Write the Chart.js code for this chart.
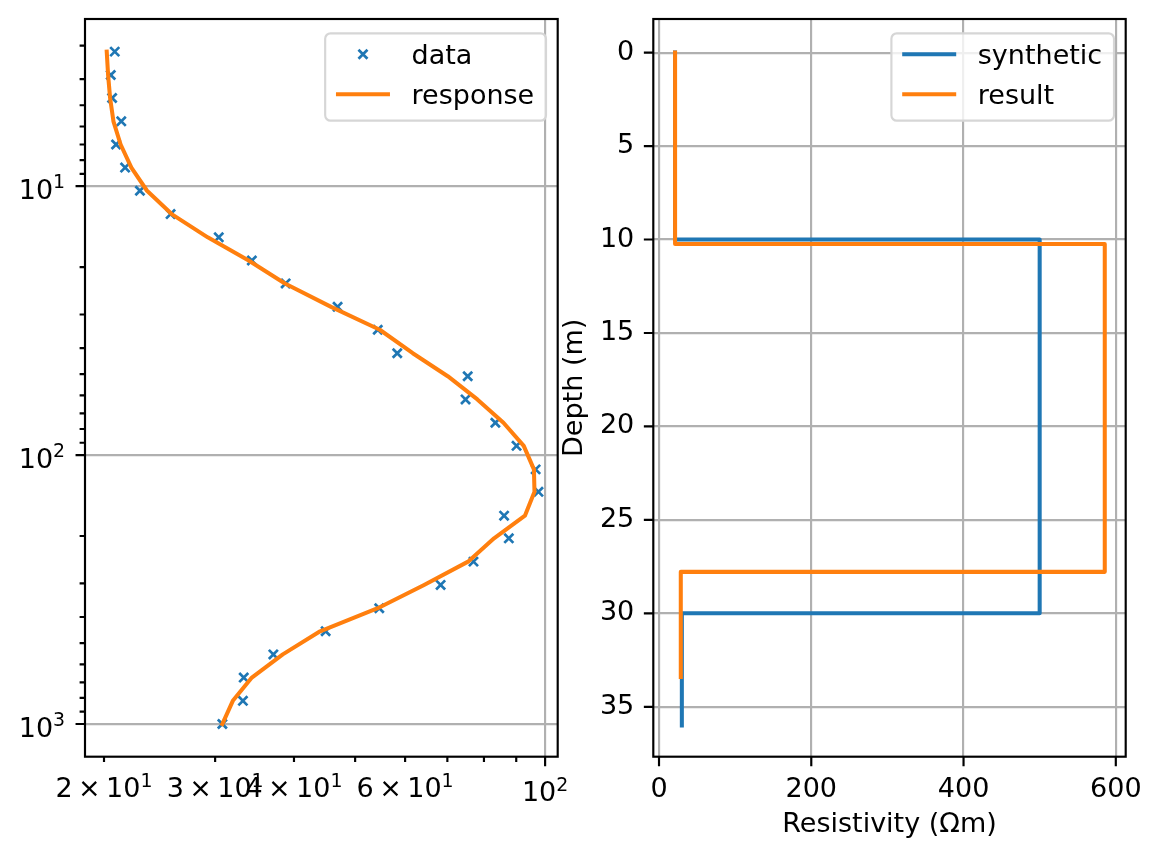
<!DOCTYPE html>
<html>
<head>
<meta charset="utf-8">
<script src="https://cdn.jsdelivr.net/npm/chart.js@4"></script>
<style>
  body { margin: 0; background: #fff; }
  canvas { position: absolute; left: 0; top: 0; }
</style>
</head>
<body>
<canvas id="sounding" width="1161" height="861"></canvas>
<canvas id="model" width="1161" height="861"></canvas>
<script>
// sounding: AB/2 spacings (m) and apparent resistivity
const ab2 = [3.16, 3.86, 4.70, 5.74, 7.00, 8.53, 10.4, 12.7, 15.5, 18.9,
             23.0, 28.1, 34.2, 41.8, 50.9, 62.1, 75.8, 92.4, 113, 137,
             168, 204, 249, 304, 371, 452, 551, 672, 820, 1000];
const rhoaData = [20.8, 20.5, 20.6, 21.3, 20.9, 21.6, 22.8, 25.5, 30.4, 34.3,
                  38.8, 46.9, 54.3, 58.3, 75.4, 74.8, 83.4, 90.1, 96.6, 97.6,
                  86.1, 87.6, 77.0, 68.3, 54.6, 44.9, 37.1, 33.3, 33.2, 30.8];
const rhoaResponse = [20.2, 20.3, 20.45, 20.7, 21.25, 22.1, 23.4, 25.6, 29.2, 33.9,
                      38.7, 45.8, 54.7, 61.7, 70.1, 78.1, 85.9, 92.5, 96.0, 96.2,
                      92.9, 83.0, 75.5, 64.3, 54.3, 44.0, 38.4, 34.3, 32.0, 30.8];

const rhoaTicks = [20, 30, 40, 50, 60, 70, 80, 90, 100];
const rhoaTickLabels = ['2×10^1', '3×10^1', '4×10^1', '', '6×10^1', '', '', '', '10^2'];
const ab2Ticks = [3, 4, 5, 6, 7, 8, 9, 10, 20, 30, 40, 50, 60, 70, 80, 90,
                  100, 200, 300, 400, 500, 600, 700, 800, 900, 1000];
const ab2TickLabels = {10: '10^1', 100: '10^2', 1000: '10^3'};

// layered models: resistivity per layer, layer boundaries in depth
const synRho = [21, 500, 30];
const synDepth = [0, 10, 30, 36];
const resRho = [21.1, 585.5, 28.6];
const resDepth = [0, 10.24, 27.78, 33.4];

const resTicks = [0, 200, 400, 600];
const depthTicks = [0, 5, 10, 15, 20, 25, 30, 35];

const BLUE = '#1f77b4';
const ORANGE = '#ff7f0e';
const GRID = '#b0b0b0';
const FS = 27;           // 10 pt at this resolution
const PT = FS / 10;
const MAJOR_LEN = 3.5 * PT;
const MINOR_LEN = 2 * PT;

Chart.defaults.font.family = 'DejaVu Sans';
Chart.defaults.font.size = FS;
Chart.defaults.color = '#000';

function isDecade(v) {
  const l = Math.log10(v);
  return Math.abs(l - Math.round(l)) < 1e-9;
}

function stepPoints(rho, depth) {
  const pts = [];
  for (let i = 0; i < rho.length; i++) {
    pts.push({x: rho[i], y: depth[i]});
    pts.push({x: rho[i], y: depth[i + 1]});
  }
  return pts;
}

function noPad(s) {
  s.paddingTop = 0; s.paddingBottom = 0; s.paddingLeft = 0; s.paddingRight = 0;
}

// "3×10^1" drawn with a raised, smaller exponent
function drawPow(ctx, label, x, baseline, align) {
  const [base, exp] = label.split('^');
  const parts = base.split('×');
  const main = FS + 'px "DejaVu Sans"';
  const sup = (FS * 0.7) + 'px "DejaVu Sans"';
  const gap = 0.2 * FS;
  ctx.font = main;
  const pieces = [];
  if (parts.length === 2) {
    pieces.push({t: parts[0], f: main, dy: 0, after: gap});
    pieces.push({t: '×', f: main, dy: 0, after: gap});
    pieces.push({t: parts[1], f: main, dy: 0, after: 0});
  } else {
    pieces.push({t: base, f: main, dy: 0, after: 0});
  }
  pieces.push({t: exp, f: sup, dy: -0.39 * FS, after: 0});
  let total = 0;
  pieces.forEach(p => { ctx.font = p.f; p.w = ctx.measureText(p.t).width; total += p.w + p.after; });
  let cx = align === 'right' ? x - total : x - total / 2;
  ctx.textAlign = 'left';
  ctx.textBaseline = 'alphabetic';
  pieces.forEach(p => {
    ctx.font = p.f;
    ctx.fillText(p.t, cx, baseline + p.dy);
    cx += p.w + p.after;
  });
}

// frame round the axes plus matplotlib style ticks (short minor ones)
function makeFrame(isMajor) {
  return {
    id: 'frame',
    afterDraw(chart) {
      const ctx = chart.ctx;
      const a = chart.chartArea;
      const xs = chart.scales.x;
      const ys = chart.scales.y;
      ctx.save();
      ctx.strokeStyle = '#000';
      ctx.lineWidth = 0.8 * PT;
      ctx.beginPath();
      xs.ticks.forEach(t => {
        const p = xs.getPixelForValue(t.value);
        const len = isMajor(t.value) ? MAJOR_LEN : MINOR_LEN;
        ctx.moveTo(p, a.bottom);
        ctx.lineTo(p, a.bottom + len);
      });
      ys.ticks.forEach(t => {
        const p = ys.getPixelForValue(t.value);
        const len = isMajor(t.value) ? MAJOR_LEN : MINOR_LEN;
        ctx.moveTo(a.left - len, p);
        ctx.lineTo(a.left, p);
      });
      ctx.stroke();
      ctx.strokeRect(a.left, a.top, a.right - a.left, a.bottom - a.top);
      ctx.restore();
    }
  };
}

// power-of-ten tick labels for the log axes
const powLabels = {
  id: 'powLabels',
  afterDraw(chart) {
    const ctx = chart.ctx;
    const a = chart.chartArea;
    const xs = chart.scales.x;
    const ys = chart.scales.y;
    ctx.save();
    ctx.fillStyle = '#000';
    rhoaTicks.forEach((v, i) => {
      const label = rhoaTickLabels[i];
      if (!label) return;
      const len = isDecade(v) ? MAJOR_LEN : MINOR_LEN;
      drawPow(ctx, label, xs.getPixelForValue(v), a.bottom + len + 35.2, 'center');
    });
    ab2Ticks.forEach(v => {
      const label = ab2TickLabels[v];
      if (!label) return;
      drawPow(ctx, label, a.left - MAJOR_LEN - 3.5 * PT - 1, ys.getPixelForValue(v) + 12.5, 'right');
    });
    ctx.restore();
  }
};

// legend box in the upper right corner, drawn like matplotlib's
function makeLegend(entries) {
  return {
    id: 'boxLegend',
    afterDraw(chart) {
      const ctx = chart.ctx;
      const a = chart.chartArea;
      ctx.save();
      ctx.font = FS + 'px "DejaVu Sans"';
      let textW = 0;
      entries.forEach(e => { textW = Math.max(textW, ctx.measureText(e.label).width); });
      const pad = 0.4 * FS;
      const handle = 2 * FS;
      const textPad = 0.8 * FS;
      const w = pad + handle + textPad + textW + pad + 1;
      const h = 87.4;
      const right = a.right - 11.7;
      const left = right - w;
      const top = a.top + 14.3;
      ctx.beginPath();
      ctx.roundRect(left, top, w, h, 0.2 * FS);
      ctx.fillStyle = 'rgba(255,255,255,0.8)';
      ctx.fill();
      ctx.strokeStyle = '#d6d6d6';
      ctx.lineWidth = 0.8 * PT;
      ctx.stroke();
      entries.forEach((e, i) => {
        const y = top + 21 + i * 40;
        const hx = left + pad;
        ctx.strokeStyle = e.color;
        if (e.kind === 'line') {
          ctx.lineWidth = 1.5 * PT;
          ctx.beginPath();
          ctx.moveTo(hx, y);
          ctx.lineTo(hx + handle, y);
          ctx.stroke();
        } else {
          const cx = hx + handle / 2;
          const r = 4.5;
          ctx.lineWidth = 2.7;
          ctx.beginPath();
          ctx.moveTo(cx - r, y - r); ctx.lineTo(cx + r, y + r);
          ctx.moveTo(cx - r, y + r); ctx.lineTo(cx + r, y - r);
          ctx.stroke();
        }
        ctx.fillStyle = '#000';
        ctx.textAlign = 'left';
        ctx.textBaseline = 'alphabetic';
        ctx.fillText(e.label, hx + handle + textPad, y + 9.5);
      });
      ctx.restore();
    }
  };
}

new Chart(document.getElementById('sounding'), {
  type: 'scatter',
  data: {
    datasets: [{
      label: 'data',
      data: ab2.map((d, i) => ({x: rhoaData[i], y: d})),
      showLine: false,
      pointStyle: 'crossRot',
      pointRadius: 6.4,
      pointBorderWidth: 2.7,
      borderColor: BLUE,
      backgroundColor: BLUE,
      order: 1
    }, {
      label: 'response',
      data: ab2.map((d, i) => ({x: rhoaResponse[i], y: d})),
      showLine: true,
      pointRadius: 0,
      borderColor: ORANGE,
      borderWidth: 1.5 * PT,
      borderJoinStyle: 'round',
      borderCapStyle: 'square',
      order: 0
    }]
  },
  options: {
    responsive: false,
    animation: false,
    layout: {padding: {left: 0, top: 19, right: 1161 - 557.7, bottom: 0}},
    plugins: {legend: {display: false}, tooltip: {enabled: false}},
    scales: {
      x: {
        type: 'logarithmic',
        min: 18.66,
        max: 104.7,
        afterBuildTicks: s => { s.ticks = rhoaTicks.map(v => ({value: v})); },
        afterFit: s => { s.height = 861 - 756.7; noPad(s); },
        border: {display: false},
        grid: {
          drawTicks: false,
          lineWidth: 0.8 * PT,
          color: c => (c.tick && isDecade(c.tick.value)) ? GRID : 'rgba(0,0,0,0)'
        },
        ticks: {display: false}
      },
      y: {
        type: 'logarithmic',
        reverse: true,
        min: 2.39,
        max: 1323,
        afterBuildTicks: s => { s.ticks = ab2Ticks.map(v => ({value: v})); },
        afterFit: s => { s.width = 85; noPad(s); },
        border: {display: false},
        grid: {
          drawTicks: false,
          lineWidth: 0.8 * PT,
          color: c => (c.tick && isDecade(c.tick.value)) ? GRID : 'rgba(0,0,0,0)'
        },
        ticks: {display: false}
      }
    }
  },
  plugins: [makeFrame(isDecade), powLabels, makeLegend([
    {label: 'data', color: BLUE, kind: 'marker'},
    {label: 'response', color: ORANGE, kind: 'line'}
  ])]
});

new Chart(document.getElementById('model'), {
  type: 'scatter',
  data: {
    datasets: [{
      label: 'synthetic',
      data: stepPoints(synRho, synDepth),
      showLine: true,
      pointRadius: 0,
      borderColor: BLUE,
      borderWidth: 1.5 * PT,
      borderJoinStyle: 'round',
      borderCapStyle: 'square',
      order: 1
    }, {
      label: 'result',
      data: stepPoints(resRho, resDepth),
      showLine: true,
      pointRadius: 0,
      borderColor: ORANGE,
      borderWidth: 1.5 * PT,
      borderJoinStyle: 'round',
      borderCapStyle: 'square',
      order: 0
    }]
  },
  options: {
    responsive: false,
    animation: false,
    layout: {padding: {left: 553.3, top: 19, right: 1161 - 1125.7, bottom: 0}},
    plugins: {legend: {display: false}, tooltip: {enabled: false}},
    scales: {
      x: {
        type: 'linear',
        min: -7.5,
        max: 613,
        afterBuildTicks: s => { s.ticks = resTicks.map(v => ({value: v})); },
        afterFit: s => { s.height = 861 - 756.7; noPad(s); },
        border: {display: false},
        grid: {drawTicks: false, lineWidth: 0.8 * PT, color: GRID},
        ticks: {autoSkip: false, maxRotation: 0, minRotation: 0, padding: 17},
        title: {display: true, text: 'Resistivity (Ωm)', padding: {top: 0, bottom: 20}}
      },
      y: {
        type: 'linear',
        reverse: true,
        min: -1.8,
        max: 37.67,
        afterBuildTicks: s => { s.ticks = depthTicks.map(v => ({value: v})); },
        afterFit: s => { s.width = 100; noPad(s); },
        border: {display: false},
        grid: {drawTicks: false, lineWidth: 0.8 * PT, color: GRID},
        ticks: {autoSkip: false, padding: 19},
        title: {display: true, text: 'Depth (m)', padding: {top: 5.5, bottom: 0}}
      }
    }
  },
  plugins: [makeFrame(() => true), makeLegend([
    {label: 'synthetic', color: BLUE, kind: 'line'},
    {label: 'result', color: ORANGE, kind: 'line'}
  ])]
});
</script>
</body>
</html>
